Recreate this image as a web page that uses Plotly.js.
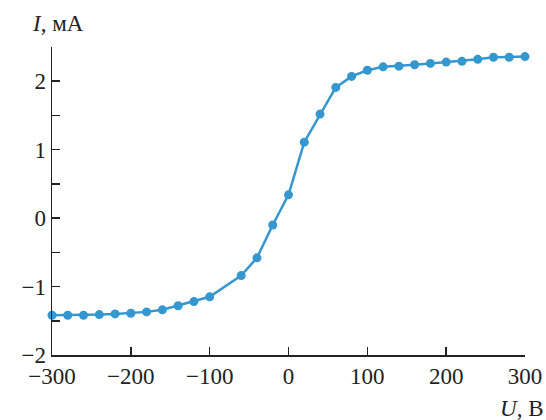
<!DOCTYPE html>
<html>
<head>
<meta charset="utf-8">
<script src="https://cdn.plot.ly/plotly-3.0.1.min.js"></script>
<style>html,body{margin:0;padding:0;background:#fff;}</style>
</head>
<body>
<div id="chart" style="width:546px;height:420px;"></div>
<script>
const voltage = [-300,-280,-260,-240,-220,-200,-180,-160,-140,-120,-100,-60,-40,-20,0,20,40,60,80,100,120,140,160,180,200,220,240,260,280,300];
const current = [-1.42,-1.42,-1.42,-1.41,-1.40,-1.39,-1.37,-1.34,-1.28,-1.22,-1.15,-0.84,-0.58,-0.10,0.34,1.11,1.52,1.91,2.07,2.16,2.21,2.22,2.24,2.26,2.28,2.29,2.32,2.35,2.35,2.36];
const xTickVals = [-300,-200,-100,0,100,200,300];
const xTickText = ['−300','−200','−100','0','100','200','300'];
const yTickVals = [-2,-1.5,-1,-0.5,0,0.5,1,1.5,2,2.5];
const yTickText = ['−2','','−1','','0','','1','','2',''];
const xLabel = '<i>U</i>, В';
const yLabel = '<i>I</i>, мА';

const color = '#3597cf';
const font = {family: '"Liberation Serif", "Times New Roman", serif', size: 23, color: '#222'};

Plotly.newPlot('chart', [{
  x: voltage, y: current, type: 'scatter', mode: 'lines+markers',
  line: {color: color, width: 2.5},
  marker: {color: color, size: 9},
  cliponaxis: false
}], {
  width: 546, height: 420,
  margin: {l: 52, r: 21, t: 47, b: 65},
  paper_bgcolor: '#fff', plot_bgcolor: '#fff',
  showlegend: false,
  font: font,
  xaxis: {
    range: [-300, 300], tickmode: 'array', tickvals: xTickVals, ticktext: xTickText,
    ticks: 'inside', ticklen: 8, tickwidth: 1.5, tickcolor: '#222',
    showline: true, linecolor: '#222', linewidth: 1.5,
    showgrid: false, zeroline: false, tickfont: font
  },
  yaxis: {
    range: [-2, 2.5], tickmode: 'array', tickvals: yTickVals, ticktext: yTickText,
    ticks: 'inside', ticklen: 8, tickwidth: 1.5, tickcolor: '#222',
    showline: true, linecolor: '#222', linewidth: 1.5,
    showgrid: false, zeroline: false, tickfont: font
  },
  annotations: [
    {text: yLabel, xref: 'paper', yref: 'paper', x: -0.047, y: 1.075, xanchor: 'left', yanchor: 'middle', showarrow: false, font: font},
    {text: xLabel, xref: 'paper', yref: 'paper', x: 1.042, y: -0.175, xanchor: 'right', yanchor: 'middle', showarrow: false, font: font}
  ]
}, {displayModeBar: false, staticPlot: true});
</script>
</body>
</html>
